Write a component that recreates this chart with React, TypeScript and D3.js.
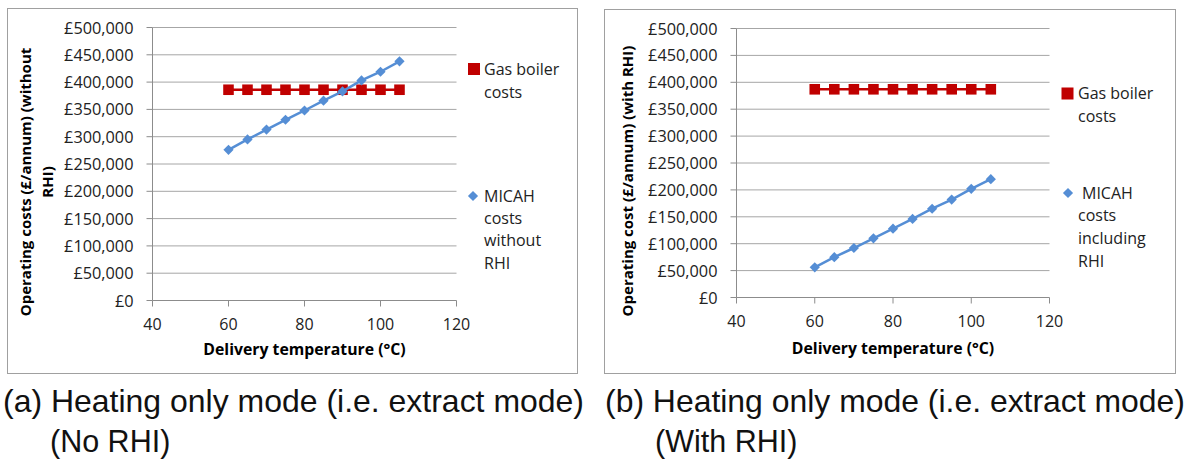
import React from "react";
import * as d3 from "d3";

const temps = [60, 65, 70, 75, 80, 85, 90, 95, 100, 105];
const gasNoRHI = [386000, 386000, 386000, 386000, 386000, 386000, 386000, 386000, 386000, 386000];
const micahNoRHI = [276000, 295000, 313000, 331000, 348000, 366000, 383000, 403000, 419000, 438000];
const gasWithRHI = [387000, 387000, 387000, 387000, 387000, 387000, 387000, 387000, 387000, 387000];
const micahWithRHI = [56000, 75000, 92000, 110000, 128000, 146000, 165000, 182000, 202000, 220000];
const xTicks = [40, 60, 80, 100, 120];
const yTicks = [0, 50000, 100000, 150000, 200000, 250000, 300000, 350000, 400000, 450000, 500000];

const RED = "#C00000";
const BLUE = "#558ED5";
const GRID = "#A6A6A6";
const AXIS = "#8C8C8C";
const FONT = "'Open Sans', sans-serif";

const fmt = (v: number) => "£" + d3.format(",")(v);

type PanelProps = {
  box: [number, number, number, number];
  plot: { x0: number; x1: number; y0: number; y1: number };
  gas: number[];
  micah: number[];
  yTitle: string[];
  yTitleX: number[];
  yTitleY: number;
  xLabelY: number;
  xTitleY: number;
  legend: {
    sq: [number, number];
    gasLines: { t: string; x: number; y: number }[];
    dia: [number, number];
    micahLines: { t: string; x: number; y: number }[];
  };
};

function Panel(p: PanelProps) {
  const gas = p.gas;
  const micah = p.micah;
  const x = d3.scaleLinear().domain([40, 120]).range([p.plot.x0, p.plot.x1]);
  const y = d3.scaleLinear().domain([0, 500000]).range([p.plot.y1, p.plot.y0]);
  const line = d3
    .line<number>()
    .x((_, i) => x(temps[i]))
    .y((d) => y(d));
  const sq = d3.symbol(d3.symbolSquare, 112)();
  const dia = d3.symbol(d3.symbolSquare, 52)();
  const [bx, by, bw, bh] = p.box;
  return (
    <g>
      <rect x={bx} y={by} width={bw} height={bh} fill="#fff" stroke="#A0A0A0" strokeWidth={1} />
      {yTicks.map((t) => (
        <g key={t}>
          {t > 0 && (
            <line x1={p.plot.x0} x2={p.plot.x1} y1={y(t)} y2={y(t)} stroke={GRID} strokeWidth={1} />
          )}
          <line x1={p.plot.x0 - 6} x2={p.plot.x0} y1={y(t)} y2={y(t)} stroke={AXIS} strokeWidth={1} />
          <text
            x={p.plot.x0 - 19}
            y={y(t)}
            textAnchor="end"
            dominantBaseline="central"
            fontFamily={FONT}
            fontSize={16.3}
            fill="#222"
          >
            {fmt(t)}
          </text>
        </g>
      ))}
      <line x1={p.plot.x0} x2={p.plot.x1} y1={y(0)} y2={y(0)} stroke={AXIS} strokeWidth={1} />
      <line x1={p.plot.x0} x2={p.plot.x0} y1={p.plot.y0} y2={y(0)} stroke={AXIS} strokeWidth={1} />
      {xTicks.map((t) => (
        <g key={t}>
          <line x1={x(t)} x2={x(t)} y1={y(0)} y2={y(0) + 6} stroke={AXIS} strokeWidth={1} />
          <text
            x={x(t)}
            y={p.xLabelY}
            textAnchor="middle"
            dominantBaseline="central"
            fontFamily={FONT}
            fontSize={16}
            fill="#222"
          >
            {t}
          </text>
        </g>
      ))}
      <text
        x={(p.plot.x0 + p.plot.x1) / 2}
        y={p.xTitleY}
        textAnchor="middle"
        dominantBaseline="central"
        fontFamily={FONT}
        fontWeight="bold"
        fontSize={15.8}
        fill="#000"
      >
        Delivery temperature (°C)
      </text>
      {p.yTitle.map((t, i) => (
        <text
          key={i}
          transform={`translate(${p.yTitleX[i]},${p.yTitleY}) rotate(-90)`}
          textAnchor="middle"
          dominantBaseline="central"
          fontFamily={FONT}
          fontWeight="bold"
          fontSize={15}
          fill="#000"
        >
          {t}
        </text>
      ))}
      <path d={line(gas) || ""} fill="none" stroke={RED} strokeWidth={2.5} />
      {gas.map((v, i) => (
        <path key={i} d={sq || ""} transform={`translate(${x(temps[i])},${y(v)})`} fill={RED} />
      ))}
      <path d={line(micah) || ""} fill="none" stroke={BLUE} strokeWidth={2.5} />
      {micah.map((v, i) => (
        <path
          key={i}
          d={dia || ""}
          transform={`translate(${x(temps[i])},${y(v)}) rotate(45)`}
          fill={BLUE}
        />
      ))}
      <rect x={p.legend.sq[0] - 6} y={p.legend.sq[1] - 6} width={12} height={12} fill={RED} />
      {p.legend.gasLines.map((l, i) => (
        <text key={i} x={l.x} y={l.y} dominantBaseline="central" fontFamily={FONT} fontSize={16} fill="#222">
          {l.t}
        </text>
      ))}
      <path d={dia || ""} transform={`translate(${p.legend.dia[0]},${p.legend.dia[1]}) rotate(45)`} fill={BLUE} />
      {p.legend.micahLines.map((l, i) => (
        <text key={i} x={l.x} y={l.y} dominantBaseline="central" fontFamily={FONT} fontSize={16} fill="#222">
          {l.t}
        </text>
      ))}
    </g>
  );
}

export default function App() {
  const capFont = "'Liberation Sans', Arial, sans-serif";
  return (
    <svg
      width={1195}
      height={461}
      style={{ position: "absolute", left: 0, top: 0, background: "#fff" }}
    >
      <rect x={0} y={0} width={1195} height={461} fill="#fff" />
      <Panel
        box={[7.5, 8.5, 570, 365]}
        plot={{ x0: 152.5, x1: 456.5, y0: 27.5, y1: 300.5 }}
        gas={gasNoRHI}
        micah={micahNoRHI}
        yTitle={["Operating costs (£/annum) (without", "RHI)"]}
        yTitleX={[25, 47]}
        yTitleY={182}
        xLabelY={324}
        xTitleY={349}
        legend={{
          sq: [474, 69],
          gasLines: [
            { t: "Gas boiler", x: 484, y: 69 },
            { t: "costs", x: 484, y: 92 },
          ],
          dia: [473, 196],
          micahLines: [
            { t: "MICAH", x: 484, y: 196 },
            { t: "costs", x: 484, y: 218 },
            { t: "without", x: 484, y: 240 },
            { t: "RHI", x: 484, y: 263 },
          ],
        }}
      />
      <Panel
        box={[604.5, 9.5, 571, 364]}
        plot={{ x0: 736.5, x1: 1049.5, y0: 28.5, y1: 297.5 }}
        gas={gasWithRHI}
        micah={micahWithRHI}
        yTitle={["Operating cost (£/annum) (with RHI)"]}
        yTitleX={[627]}
        yTitleY={181}
        xLabelY={321}
        xTitleY={348}
        legend={{
          sq: [1067.5, 93.5],
          gasLines: [
            { t: "Gas boiler", x: 1078, y: 93 },
            { t: "costs", x: 1078, y: 116 },
          ],
          dia: [1068, 193],
          micahLines: [
            { t: "MICAH", x: 1082, y: 193 },
            { t: "costs", x: 1078, y: 215 },
            { t: "including", x: 1078, y: 238 },
            { t: "RHI", x: 1078, y: 261 },
          ],
        }}
      />
      <text x={3} y={411.5} fontFamily={capFont} fontSize={30.5} fill="#111" textLength={581} lengthAdjust="spacingAndGlyphs">
        (a) Heating only mode (i.e. extract mode)
      </text>
      <text x={50} y={451.5} fontFamily={capFont} fontSize={30.5} fill="#111">
        (No RHI)
      </text>
      <text x={605} y={411.5} fontFamily={capFont} fontSize={30.5} fill="#111" textLength={580} lengthAdjust="spacingAndGlyphs">
        (b) Heating only mode (i.e. extract mode)
      </text>
      <text x={655} y={451.5} fontFamily={capFont} fontSize={30.5} fill="#111">
        (With RHI)
      </text>
    </svg>
  );
}
